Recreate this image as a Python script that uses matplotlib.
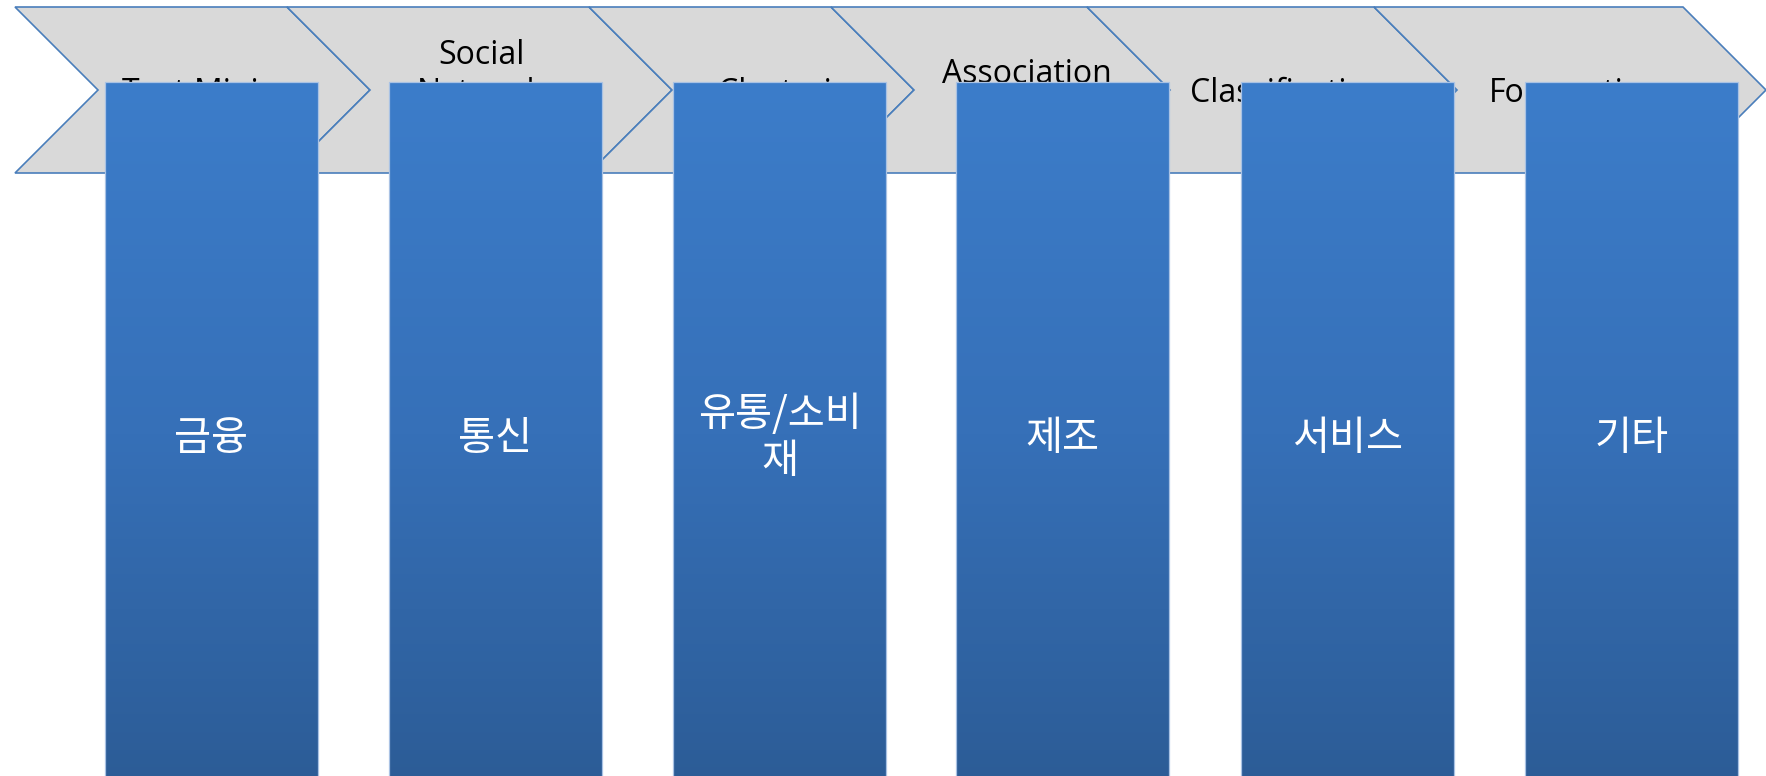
import numpy as np
import matplotlib
matplotlib.use("Agg")
import matplotlib.pyplot as plt
from matplotlib.patches import Polygon, Rectangle
from matplotlib.colors import LinearSegmentedColormap

# ---- content ----
stage_labels = ["Text Mining", "Social\nNetwork\nAnalysis", "Clustering",
                "Association\nRule", "Classification", "Forecasting"]
industry_labels = ["금융", "통신", "유통/소비\n재", "제조", "서비스", "기타"]

# ---- layout (pixel coordinates, y downward) ----
W, H = 1766, 776
chev_left = [15, 287, 589, 831, 1087, 1374]
chev_right = [287, 589, 831, 1087, 1374, 1683]
chev_depth = 83
chev_top, chev_bot = 7, 173
chev_text_x = [209, 481, 793, 1027, 1288, 1575]
chev_base = 102
chev_line = 37.5

bar_left = [105, 389, 673, 956, 1241, 1525]
bar_w = 213
bar_top, bar_bot = 82, 786
bar_base = 450
bar_line = 47

fig = plt.figure(figsize=(W / 100, H / 100), dpi=100)
ax = fig.add_axes([0, 0, 1, 1])
ax.set_xlim(0, W)
ax.set_ylim(H, 0)
ax.axis("off")

mid = (chev_top + chev_bot) / 2
for i, (l, r) in enumerate(zip(chev_left, chev_right)):
    pts = [(l, chev_top), (r, chev_top), (r + chev_depth, mid), (r, chev_bot),
           (l, chev_bot), (l + chev_depth, mid)]
    ax.add_patch(Polygon(pts, closed=True, facecolor="#D9D9D9",
                         edgecolor="#4A7EBB", linewidth=1.2, zorder=1 + i * 0.01))
    lines = stage_labels[i].split("\n")
    n = len(lines)
    for k, t in enumerate(lines):
        y = chev_base + (k - (n - 1) / 2) * chev_line
        ax.text(chev_text_x[i], y, t, ha="center", va="baseline",
                fontsize=23, family=["Open Sans", "DejaVu Sans"],
                color="black", zorder=2)

cmap = LinearSegmentedColormap.from_list("g", ["#3C7DCA", "#3670B8", "#2C5C96"])
grad = np.linspace(0, 1, 256).reshape(-1, 1)
for i, l in enumerate(bar_left):
    im = ax.imshow(grad, cmap=cmap, aspect="auto",
                   extent=(l, l + bar_w, bar_bot, bar_top), zorder=3,
                   interpolation="bilinear")
    rect = Rectangle((l, bar_top), bar_w, bar_bot - bar_top, facecolor="none",
                     edgecolor="#A9C2E4", linewidth=0.9, zorder=4)
    ax.add_patch(rect)
    im.set_clip_path(rect)
    lines = industry_labels[i].split("\n")
    n = len(lines)
    for k, t in enumerate(lines):
        y = bar_base + (k - (n - 1) / 2) * bar_line
        ax.text(l + bar_w / 2, y, t, ha="center", va="baseline",
                fontsize=29, family=["Noto Sans CJK KR", "DejaVu Sans"],
                color="white", zorder=5)

fig.savefig("out.png", dpi=100)
